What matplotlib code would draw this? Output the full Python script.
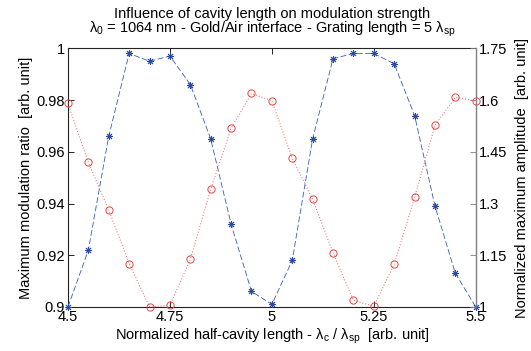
import matplotlib
matplotlib.use('Agg')
import matplotlib.pyplot as plt

plt.rcParams['font.family'] = ['Liberation Sans', 'DejaVu Sans']
plt.rcParams['mathtext.fontset'] = 'custom'
plt.rcParams['mathtext.rm'] = 'Liberation Sans'
plt.rcParams['mathtext.it'] = 'Liberation Sans:italic'

# half-cavity length (normalized)
cavity_length = [4.50, 4.55, 4.60, 4.65, 4.70, 4.75, 4.80, 4.85, 4.90, 4.95, 5.00,
                 5.05, 5.10, 5.15, 5.20, 5.25, 5.30, 5.35, 5.40, 5.45, 5.50]
# left axis: maximum modulation ratio
modulation_ratio = [0.900, 0.922, 0.966, 0.998, 0.995, 0.997, 0.986, 0.965, 0.932, 0.906, 0.901,
                    0.918, 0.965, 0.996, 0.998, 0.998, 0.994, 0.974, 0.939, 0.913, 0.900]
# right axis: normalized maximum amplitude
max_amplitude = [1.590, 1.419, 1.281, 1.126, 1.000, 1.005, 1.138, 1.341, 1.518, 1.619, 1.598,
                 1.431, 1.312, 1.157, 1.019, 1.002, 1.124, 1.318, 1.527, 1.608, 1.597]

x_ticks = [4.5, 4.75, 5, 5.25, 5.5]
x_ticklabels = ['4.5', '4.75', '5', '5.25', '5.5']
left_ticks = [0.9, 0.92, 0.94, 0.96, 0.98, 1.0]
left_ticklabels = ['0.9', '0.92', '0.94', '0.96', '0.98', '1']
right_ticks = [1, 1.15, 1.3, 1.45, 1.6, 1.75]
right_ticklabels = ['1', '1.15', '1.3', '1.45', '1.6', '1.75']

blue = '#3a5cb4'
red = '#e8605c'

fig = plt.figure(figsize=(5.31, 3.51), dpi=100)
ax1 = fig.add_axes([0.128, 0.1254, 0.768, 0.737])
ax2 = ax1.twinx()

ax1.plot(cavity_length, modulation_ratio, color=blue, linestyle=(0, (7, 3)), linewidth=0.6,
         marker=(8, 2, 0), markersize=5, markeredgewidth=0.7, markeredgecolor='#2a4aa4',
         clip_on=False, zorder=3)
ax2.plot(cavity_length, max_amplitude, color=red, linestyle=(0, (1, 2)), linewidth=0.7,
         marker='o', markersize=5.2, markerfacecolor='none', markeredgewidth=0.7,
         markeredgecolor='#e04844', clip_on=False)

ax1.set_xlim(4.5, 5.5)
ax1.set_ylim(0.9, 1.0)
ax2.set_ylim(1, 1.75)
ax1.set_xticks(x_ticks)
ax1.set_xticklabels(x_ticklabels)
ax1.set_yticks(left_ticks)
ax1.set_yticklabels(left_ticklabels)
ax2.set_yticks(right_ticks)
ax2.set_yticklabels(right_ticklabels)

ax1.tick_params(axis='both', direction='in', length=4, width=0.6, labelsize=10.5, pad=2,
                top=True, right=False)
ax2.tick_params(axis='y', direction='in', length=4, width=0.6, labelsize=10.5, pad=2,
                color='#808080')

for side in ['left', 'bottom', 'top']:
    ax1.spines[side].set_linewidth(0.8)
    ax1.spines[side].set_color('#222222')
ax2.spines['right'].set_color('#808080')
ax2.spines['right'].set_linewidth(1.0)
ax1.spines['right'].set_visible(False)
for side in ['left', 'bottom', 'top']:
    ax2.spines[side].set_visible(False)

ax1.set_xlabel(r'Normalized half-cavity length - λ$_\mathrm{c}$ / λ$_\mathrm{sp}$  [arb. unit]',
               fontsize=10.5, labelpad=2)
ax1.set_ylabel('Maximum modulation ratio  [arb. unit]', fontsize=10.5, labelpad=3)
ax2.set_ylabel('Normalized maximum amplitude  [arb. unit]', fontsize=10.5, labelpad=6)
ax1.set_title('Influence of cavity length on modulation strength\n'
              r'λ$_\mathrm{0}$ = 1064 nm - Gold/Air interface - Grating length = 5 λ$_\mathrm{sp}$',
              fontsize=10.5, linespacing=0.95, pad=11)

fig.savefig('out.png', dpi=100)
